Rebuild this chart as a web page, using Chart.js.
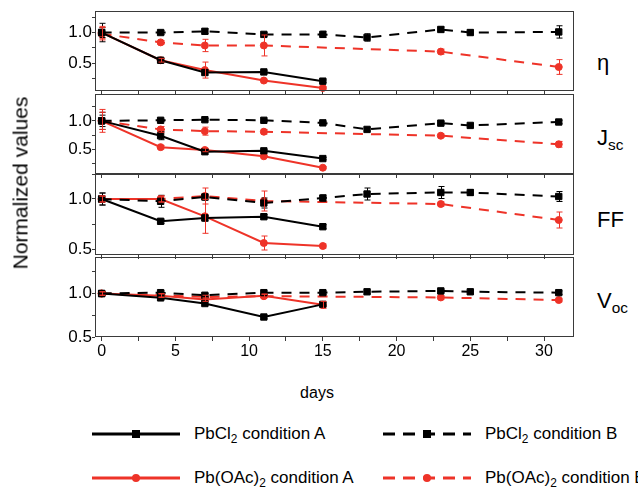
<!DOCTYPE html>
<html>
<head>
<meta charset="utf-8">
<script src="https://cdn.jsdelivr.net/npm/chart.js@4.4.1/dist/chart.umd.min.js"></script>
<style>
  body { margin: 0; background: #fff; }
  #wrap { position: relative; width: 638px; height: 487px; overflow: hidden;
          font-family: 'Liberation Sans', Arial, sans-serif; color: #000; }
  #wrap canvas { position: absolute; left: 0; }
  .lbl { position: absolute; white-space: nowrap; line-height: 1; }
  .lbl sub { font-size: 70%; vertical-align: -0.3em; line-height: 0; }
  .leg { position: absolute; display: flex; align-items: center; white-space: nowrap; font-size: 17px; }
  .leg svg { margin-right: 14px; }
  .leg sub { font-size: 70%; vertical-align: -0.3em; line-height: 0; }
</style>
</head>
<body>
<div id="wrap">
  <canvas id="p0" width="575" height="84" style="top:11px"></canvas>
  <canvas id="p1" width="575" height="84" style="top:94px"></canvas>
  <canvas id="p2" width="575" height="85" style="top:174px"></canvas>
  <canvas id="p3" width="575" height="108" style="top:257px"></canvas>

  <div class="lbl" style="left:20px;top:183px;font-size:21px;transform:translate(-50%,-50%) rotate(-90deg)">Normalized values</div>
  <div class="lbl" style="left:597px;top:52px;font-size:22px">η</div>
  <div class="lbl" style="left:597px;top:127px;font-size:22px">J<sub>sc</sub></div>
  <div class="lbl" style="left:597px;top:209px;font-size:22px">FF</div>
  <div class="lbl" style="left:597px;top:290px;font-size:22px">V<sub>oc</sub></div>
  <div class="lbl" style="left:317px;top:393px;font-size:16px;transform:translate(-50%,-50%)">days</div>
  <div id="legend"></div>
</div>
<script>
// days of measurement
const daysA = [0, 4, 7, 11, 15];
const daysClB = [0, 4, 7, 11, 15, 18, 23, 25, 31];
const daysOAcB = [0, 4, 7, 11, 23, 31];

// efficiency
const etaClA = [1.0, 0.55, 0.35, 0.36, 0.21];
const etaOAcA = [1.0, 0.55, 0.39, 0.22, 0.10];
const etaClB = [1.0, 1.0, 1.02, 0.97, 0.97, 0.92, 1.05, 1.0, 1.01];
const etaOAcB = [0.98, 0.84, 0.79, 0.79, 0.69, 0.44];
const etaClAErr = [0.15, 0.03, 0.04, 0.02, 0.02];
const etaOAcAErr = [0.1, 0.03, 0.13, 0.02, 0.02];
const etaClBErr = [0.08, 0.03, 0.04, 0.03, 0.05, 0.06, 0.04, 0.04, 0.1];
const etaOAcBErr = [0.1, 0.03, 0.1, 0.17, 0.04, 0.12];

// short circuit current
const jscClA = [1.0, 0.74, 0.46, 0.475, 0.34];
const jscOAcA = [1.0, 0.54, 0.49, 0.38, 0.18];
const jscClB = [1.0, 1.01, 1.02, 1.01, 0.965, 0.85, 0.96, 0.92, 0.98];
const jscOAcB = [1.0, 0.85, 0.82, 0.81, 0.74, 0.59];
const jscClAErr = [0.15, 0.07, 0.04, 0.02, 0.02];
const jscOAcAErr = [0.2, 0.03, 0.03, 0.02, 0.02];
const jscClBErr = [0.1, 0.02, 0.02, 0.02, 0.02, 0.03, 0.03, 0.03, 0.03];
const jscOAcBErr = [0.15, 0.05, 0.07, 0.04, 0.03, 0.05];

// fill factor
const ffClA = [1.0, 0.777, 0.81, 0.823, 0.723];
const ffOAcA = [1.0, 1.0, 0.827, 0.56, 0.53];
const ffClB = [1.0, 0.977, 1.02, 0.96, 1.01, 1.05, 1.065, 1.065, 1.025];
const ffOAcB = [1.0, 1.0, 1.03, 0.98, 0.95, 0.79];
const ffClAErr = [0.06, 0.02, 0.03, 0.02, 0.02];
const ffOAcAErr = [0.03, 0.03, 0.17, 0.07, 0.02];
const ffClBErr = [0.06, 0.06, 0.03, 0.05, 0.03, 0.06, 0.06, 0.03, 0.05];
const ffOAcBErr = [0.03, 0.03, 0.08, 0.1, 0.02, 0.08];

// open circuit voltage
const vocClA = [1.0, 0.95, 0.885, 0.73, 0.875];
const vocOAcA = [1.0, 0.975, 0.93, 0.975, 0.87];
const vocClB = [1.0, 1.01, 0.98, 1.01, 1.01, 1.02, 1.03, 1.02, 1.01];
const vocOAcB = [1.0, 0.98, 0.96, 0.97, 0.955, 0.925];
const vocClAErr = [0.02, 0.02, 0.02, 0.02, 0.02];
const vocOAcAErr = [0.02, 0.02, 0.02, 0.02, 0.04];
const vocClBErr = [0.02, 0.02, 0.02, 0.02, 0.02, 0.02, 0.02, 0.02, 0.02];
const vocOAcBErr = [0.02, 0.02, 0.02, 0.02, 0.02, 0.02];

// axes
const dayTicks = [0, 5, 10, 15, 20, 25, 30];
const minorDayTicks = [2.5, 7.5, 12.5, 17.5, 22.5, 27.5];
const yTicks = [0.5, 1.0];
const yMinorTicks = [0.25, 0.75, 1.25];

const legendLabels = [
    'PbCl<sub>2</sub> condition A',
    'PbCl<sub>2</sub> condition B',
    'Pb(OAc)<sub>2</sub> condition A',
    'Pb(OAc)<sub>2</sub> condition B'
];

const RED = '#ee3328';
const BLACK = '#000000';
const FRAME = '#3a3a3a';
const FONT = "'Liberation Sans', Arial, sans-serif";

const styles = [
    { color: BLACK, dash: [], point: 'rect', radius: 4.5 },
    { color: BLACK, dash: [10, 8], point: 'rect', radius: 4.5 },
    { color: RED, dash: [], point: 'circle', radius: 3.5 },
    { color: RED, dash: [10, 8], point: 'circle', radius: 3.5 }
];

const panels = [
    { min: 0.05, max: 1.35, days: [daysA, daysClB, daysA, daysOAcB],
      values: [etaClA, etaClB, etaOAcA, etaOAcB], errors: [etaClAErr, etaClBErr, etaOAcAErr, etaOAcBErr] },
    { min: 0.07, max: 1.47, days: [daysA, daysClB, daysA, daysOAcB],
      values: [jscClA, jscClB, jscOAcA, jscOAcB], errors: [jscClAErr, jscClBErr, jscOAcAErr, jscOAcBErr] },
    { min: 0.44, max: 1.25, days: [daysA, daysClB, daysA, daysOAcB],
      values: [ffClA, ffClB, ffOAcA, ffOAcB], errors: [ffClAErr, ffClBErr, ffOAcAErr, ffOAcBErr] },
    { min: 0.5, max: 1.42, days: [daysA, daysClB, daysA, daysOAcB],
      values: [vocClA, vocClB, vocOAcA, vocOAcB], errors: [vocClAErr, vocClBErr, vocOAcAErr, vocOAcBErr] }
];

const errorBars = {
    id: 'errorBars',
    afterDatasetsDraw(chart) {
        const ctx = chart.ctx;
        const y = chart.scales.y;
        ctx.save();
        ctx.lineWidth = 1;
        chart.data.datasets.forEach((ds, i) => {
            const meta = chart.getDatasetMeta(i);
            ctx.strokeStyle = ds.borderColor;
            meta.data.forEach((pt, j) => {
                const d = ds.data[j];
                if (!d.err) return;
                const top = y.getPixelForValue(d.y + d.err);
                const bot = y.getPixelForValue(d.y - d.err);
                const px = Math.round(pt.x) + 0.5;
                ctx.beginPath();
                ctx.moveTo(px, top); ctx.lineTo(px, bot);
                ctx.moveTo(px - 3, top); ctx.lineTo(px + 3, top);
                ctx.moveTo(px - 3, bot); ctx.lineTo(px + 3, bot);
                ctx.stroke();
            });
        });
        ctx.restore();
    }
};

const frame = {
    id: 'frame',
    afterDraw(chart) {
        const a = chart.chartArea;
        const ctx = chart.ctx;
        ctx.save();
        ctx.strokeStyle = FRAME;
        ctx.lineWidth = 1;
        ctx.strokeRect(Math.round(a.left) + 0.5, Math.round(a.top) + 0.5,
            Math.round(a.right - a.left) - 1, Math.round(a.bottom - a.top) - 1);
        ctx.restore();
    }
};

function buildPanel(index) {
    const p = panels[index];
    const bottom = index === panels.length - 1;
    new Chart(document.getElementById('p' + index), {
        type: 'line',
        data: {
            datasets: p.values.map((vals, k) => ({
                data: vals.map((v, j) => ({ x: p.days[k][j], y: v, err: p.errors[k][j] })),
                borderColor: styles[k].color,
                backgroundColor: styles[k].color,
                borderWidth: 2,
                borderDash: styles[k].dash,
                pointStyle: styles[k].point,
                pointRadius: styles[k].radius,
                pointBorderWidth: 1,
                tension: 0,
                clip: false
            }))
        },
        options: {
            responsive: false,
            animation: false,
            events: [],
            layout: { autoPadding: false, padding: { left: 0, right: 1.5, top: 0, bottom: 0 } },
            plugins: { legend: { display: false }, tooltip: { enabled: false } },
            scales: {
                x: {
                    type: 'linear',
                    min: -0.45,
                    max: 32,
                    afterBuildTicks: sc => {
                        sc.ticks = dayTicks.concat(minorDayTicks).sort((a, b) => a - b).map(v => ({ value: v }));
                    },
                    afterFit: sc => {
                        sc.height = bottom ? 28 : 4;
                        sc.paddingLeft = 0; sc.paddingRight = 0;
                    },
                    ticks: {
                        display: bottom,
                        autoSkip: false,
                        maxRotation: 0,
                        padding: 1,
                        color: '#000',
                        font: { family: FONT, size: 16 },
                        callback: v => dayTicks.includes(v) ? String(v) : ''
                    },
                    grid: { drawOnChartArea: false, drawTicks: true, tickLength: 4, color: FRAME },
                    border: { display: false }
                },
                y: {
                    min: p.min,
                    max: p.max,
                    afterBuildTicks: sc => {
                        sc.ticks = yTicks.concat(yMinorTicks).sort((a, b) => a - b)
                            .filter(v => v >= sc.min && v <= sc.max).map(v => ({ value: v }));
                    },
                    afterFit: sc => {
                        sc.width = 95;
                        sc.paddingTop = 0; sc.paddingBottom = 0;
                    },
                    ticks: {
                        autoSkip: false,
                        padding: 0,
                        color: '#000',
                        font: { family: FONT, size: 17 },
                        callback: v => yTicks.includes(v) ? v.toFixed(1) : ''
                    },
                    grid: { drawOnChartArea: false, drawTicks: true, tickLength: 3, color: FRAME },
                    border: { display: false }
                }
            }
        },
        plugins: [errorBars, frame]
    });
}

panels.forEach((p, i) => buildPanel(i));

// legend
function legendSample(s) {
    const w = 88, h = 12, cy = 6, cx = 44;
    const dash = s.dash.length ? ` stroke-dasharray="12 8"` : '';
    const mark = s.point === 'rect'
        ? `<rect x="${cx - 4}" y="${cy - 4}" width="8" height="8" fill="${s.color}"/>`
        : `<circle cx="${cx}" cy="${cy}" r="4" fill="${s.color}"/>`;
    return `<svg width="${w}" height="${h}"><line x1="0" y1="${cy}" x2="${w}" y2="${cy}" stroke="${s.color}" stroke-width="3"${dash}/>${mark}</svg>`;
}
const legendPos = [[92, 434], [383, 434], [92, 478], [383, 478]];
document.getElementById('legend').innerHTML = legendLabels.map((t, i) =>
    `<div class="leg" style="left:${legendPos[i][0]}px;top:${legendPos[i][1] - 10}px;height:20px">${legendSample(styles[i])}<span>${t}</span></div>`
).join('');
</script>
</body>
</html>
